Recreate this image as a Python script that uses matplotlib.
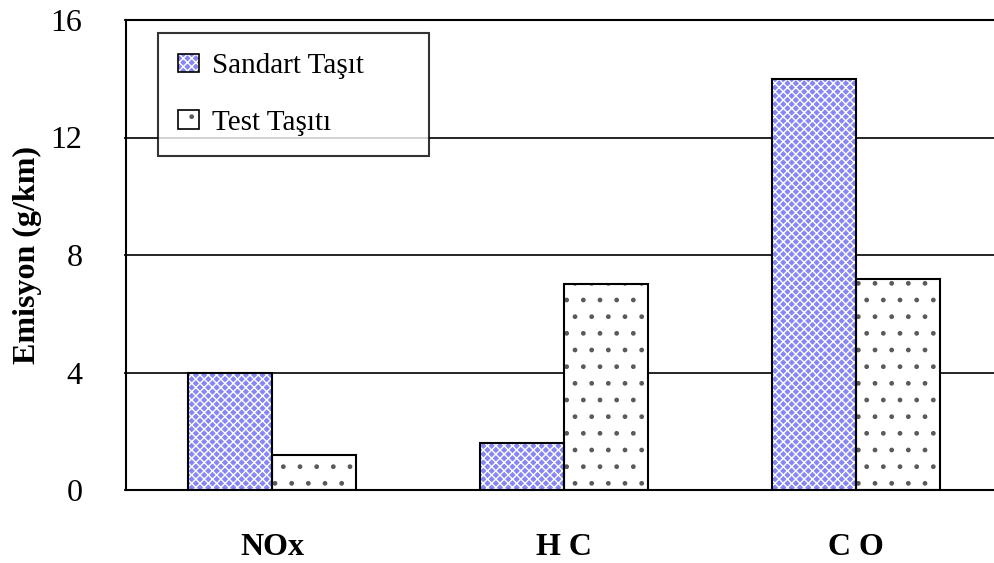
import matplotlib
matplotlib.use("Agg")
import matplotlib.pyplot as plt
import numpy as np
from matplotlib.patches import Patch

plt.rcParams["font.family"] = ["Liberation Serif", "DejaVu Serif"]
plt.rcParams["hatch.linewidth"] = 1.0

categories = ["NOx", "H C", "C O"]
standart = [4.0, 1.6, 14.0]
test = [1.2, 7.0, 7.2]
series_labels = ["Sandart Taşıt", "Test Taşıtı"]
yticks = [0, 4, 8, 12, 16]

BLUE_FACE = "#8686f6"
DOT = "#5a5a5a"
W = 0.286

fig = plt.figure(figsize=(9.94, 5.63), dpi=100)
ax = fig.add_axes([126 / 994, 73 / 563, 876 / 994, 470 / 563])

x = np.arange(len(categories))
# hatch pass (hatch takes the edge colour) then a separate black outline pass
ax.bar(x - W / 2, standart, W, color=BLUE_FACE, edgecolor="white", hatch="xxxx", linewidth=0, zorder=2)
ax.bar(x - W / 2, standart, W, fill=False, edgecolor="black", linewidth=1.5, zorder=3)
ax.bar(x + W / 2, test, W, color="white", edgecolor=DOT, hatch=".", linewidth=0, zorder=2)
ax.bar(x + W / 2, test, W, fill=False, edgecolor="black", linewidth=1.5, zorder=3)

ax.set_xlim(-0.5, 2.5)
ax.set_ylim(0, 16)
ax.set_yticks(yticks)
ax.set_yticklabels([str(v) for v in yticks], fontsize=23)
ax.yaxis.grid(True, color="black", linewidth=1.2, zorder=0)
ax.set_axisbelow(True)
ax.tick_params(axis="y", length=1.5, width=1.2, pad=30)
ax.set_xticks(x)
ax.set_xticklabels(categories, fontsize=23, fontweight="bold")
ax.tick_params(axis="x", length=0, pad=31)
for s in ("left", "top", "bottom"):
    ax.spines[s].set_linewidth(1.5)
ax.spines["right"].set_visible(False)

ax.text((27 - 126) / 876, 0.5, "Emisyon (g/km)", transform=ax.transAxes, rotation=90,
        ha="center", va="center", fontsize=23, fontweight="bold")

h1 = (Patch(facecolor=BLUE_FACE, edgecolor="white", hatch="xxxx", linewidth=0),
      Patch(fill=False, edgecolor="black", linewidth=1.2))
h2 = (Patch(facecolor="white", edgecolor=DOT, hatch=".", linewidth=0),
      Patch(fill=False, edgecolor="black", linewidth=1.2))
leg = ax.legend([h1, h2], series_labels, loc="upper left", mode="expand",
                bbox_to_anchor=(158 / 994, 1 - 33 / 563, 271 / 994, 0),
                bbox_transform=fig.transFigure, borderaxespad=0, fontsize=21,
                frameon=True, fancybox=False, borderpad=0.7, labelspacing=1.05,
                handlelength=0.7, handleheight=0.6, handletextpad=0.45)
leg.get_frame().set_edgecolor("black")
leg.get_frame().set_linewidth(1.5)
leg.set_zorder(5)

fig.savefig("out.png", dpi=100)
